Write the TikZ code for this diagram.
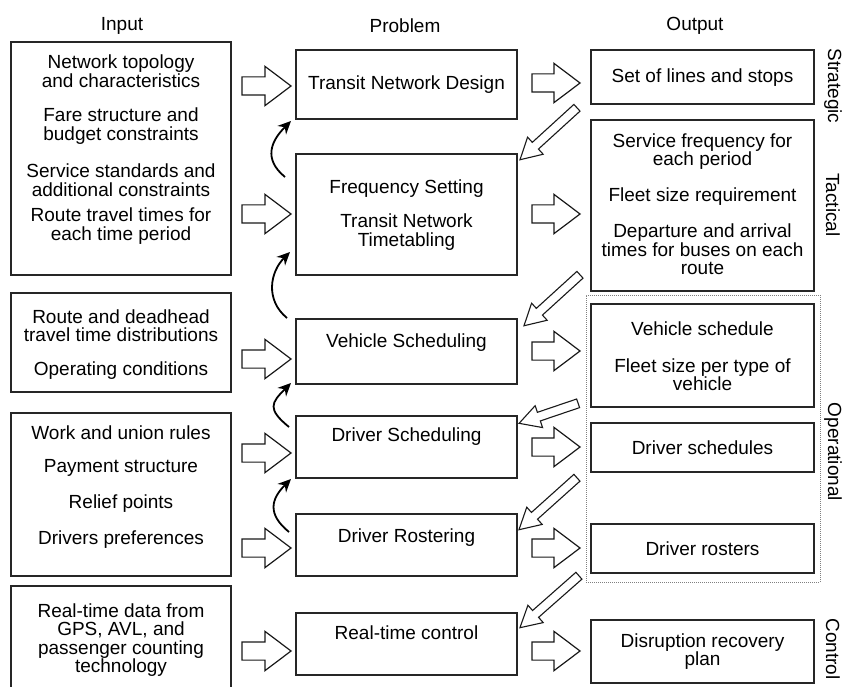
\documentclass[tikz,border=0pt]{standalone}
\usepackage{fontspec}
\setmainfont{Liberation Sans}
\usetikzlibrary{shapes.arrows,calc,arrows.meta}

% hollow block arrow between two points
\newcommand{\blockarrow}[3][fat]{%
  \path let \p1=($(#3)-(#2)$), \n1={veclen(\x1,\y1)}, \n2={atan2(\y1,\x1)} in
    node[#1,minimum height=\n1,rotate=\n2] at ($(#2)!.5!(#3)$) {};}

\begin{document}
\begin{tikzpicture}
  [x=1pt,y=-1pt,
   every node/.style={font=\fontsize{19}{18.5}\selectfont,align=center,inner sep=0pt},
   box/.style={draw=black!85,line width=1.3pt},
   inbox/.style={box,minimum width=220},
   pbbox/.style={box,minimum width=221},
   outbox/.style={box,minimum width=223},
   fat/.style={single arrow,draw=black!90,line width=1.2pt,inner xsep=0pt,inner ysep=8.5pt,
     single arrow head extend=10.5pt,single arrow tip angle=74},
   thin/.style={single arrow,draw=black!90,line width=1.1pt,inner xsep=0pt,inner ysep=4pt,
     single arrow head extend=7pt,single arrow tip angle=58},
   curv/.style={-{Stealth[length=13pt,width=12pt]},line width=1.8pt}]
  \useasboundingbox (0,0) rectangle (843,687);
  \clip (0,0) rectangle (843,687);

  % headers
  \node (hin) at (122,26) {Input};
  \node (hpb) at (405,26) {Problem};
  \node (hout) at (695,26) {Output};

  % input column
  \node[inbox,minimum height=233] (in1) at (121,158.5) {};
  \node[inbox,minimum height=99] (in2) at (121,342.5) {};
  \node[inbox,minimum height=163] (in3) at (121,494.5) {};
  \node[inbox,minimum height=114] (in4) at (121,643) {};
  \node (t1a) at (121,71) {Network topology\\and characteristics};
  \node (t1b) at (121,126) {Fare structure and\\budget constraints};
  \node (t1c) at (121,180) {Service standards and\\additional constraints};
  \node (t1d) at (121,226) {Route travel times for\\each time period};
  \node (t2a) at (121,325.5) {Route and deadhead\\travel time distributions};
  \node (t2b) at (121,371) {Operating conditions};
  \node (t3a) at (121,433) {Work and union rules};
  \node (t3b) at (121,468) {Payment structure};
  \node (t3c) at (121,504) {Relief points};
  \node (t3d) at (121,540) {Drivers preferences};
  \node (t4a) at (121,640) {Real-time data from\\GPS, AVL, and\\passenger counting\\technology};

  % problem column
  \node[pbbox,minimum height=69] (pb1) at (406.5,84.5) {};
  \node[pbbox,minimum height=121] (pb2) at (406.5,214.5) {};
  \node[pbbox,minimum height=65] (pb3) at (406.5,351.5) {};
  \node[pbbox,minimum height=62] (pb4) at (406.5,447) {};
  \node[pbbox,minimum height=62] (pb5) at (406.5,545) {};
  \node[pbbox,minimum height=62] (pb6) at (406.5,644) {};
  \node (p1) at (406.5,85) {Transit Network Design};
  \node (p2) at (406.5,215) {Frequency Setting\\[16pt]Transit Network\\Timetabling};
  \node (p3) at (406.5,343) {Vehicle Scheduling};
  \node (p4) at (406.5,437) {Driver Scheduling};
  \node (p5) at (406.5,538) {Driver Rostering};
  \node (p6) at (406.5,633) {Real-time control};

  % output column
  \node[draw=black!50,densely dotted,line width=1pt,minimum width=234,minimum height=287] (ops) at (703,438.5) {};
  \node[outbox,minimum height=54] (out1) at (702.5,77) {};
  \node[outbox,minimum height=171] (out2) at (702.5,205.5) {};
  \node[outbox,minimum height=103] (out3) at (702.5,355.5) {};
  \node[outbox,minimum height=49] (out4) at (702.5,447.5) {};
  \node[outbox,minimum height=49] (out5) at (702.5,548.5) {};
  \node[outbox,minimum height=63] (out6) at (702.5,651.5) {};
  \node (o1) at (702.5,78) {Set of lines and stops};
  \node (o2a) at (702.5,151.5) {Service frequency for\\each period};
  \node (o2b) at (702.5,197) {Fleet size requirement};
  \node (o2c) at (702.5,249.5) {Departure and arrival\\times for buses on each\\route};
  \node (o3a) at (702.5,329) {Vehicle schedule};
  \node (o3b) at (702.5,374.5) {Fleet size per type of\\vehicle};
  \node (o4) at (702.5,448) {Driver schedules};
  \node (o5) at (702.5,549) {Driver rosters};
  \node (o6) at (702.5,651.5) {Disruption recovery\\plan};

  % levels
  \node[rotate=-90] (strat) at (833,86) {Strategic};
  \node[rotate=-90] (tact) at (833,205) {Tactical};
  \node[rotate=-90] (oper) at (833,452) {Operational};
  \node[rotate=-90] (ctrl) at (833,649) {Control};

  % input -> problem -> output
  \foreach \r in {86,214,359,453,548,651}
    \blockarrow{236,\r}{285,\r};
  \foreach \r in {83,214,351,447,548,651}
    \blockarrow{526,\r}{574,\r};

  % output -> next problem
  \foreach \ax/\ay/\bx/\by in {580/105/523/157, 583/272/527/323, 582/402/523/422,
      580/475/522/527, 582/573/523/625}
    \blockarrow[thin]{\ax,\ay}{\bx,\by};

  % feedback
  \foreach \ax/\ay/\bx/\by in {285/177/291/121, 287/318/290/252, 289/427/291/383,
      289/532/291/479}
    \draw[curv] (\ax,\ay) .. controls +(-22,-18) and +(-20,20) .. (\bx,\by);
\end{tikzpicture}
\end{document}
